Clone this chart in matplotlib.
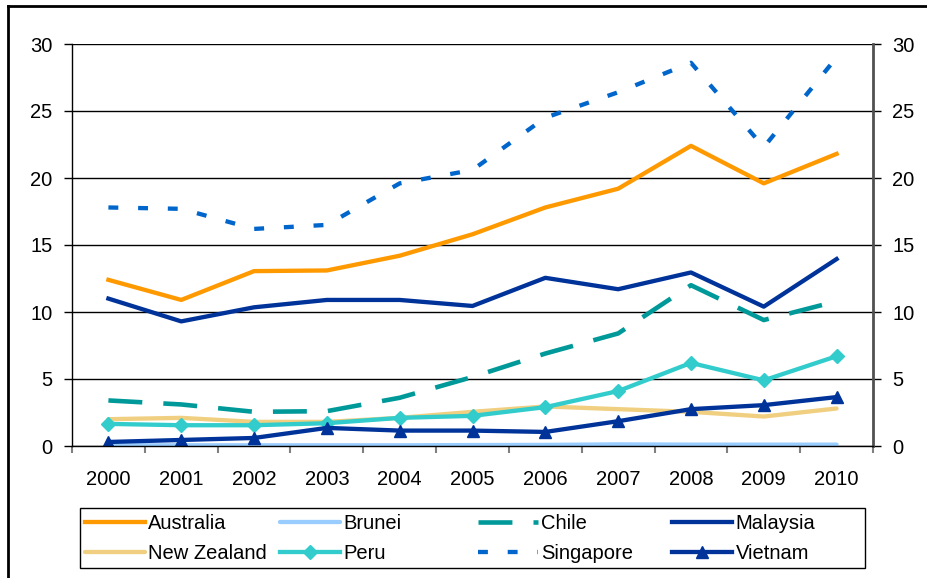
import matplotlib
matplotlib.use("Agg")
import matplotlib.pyplot as plt
from matplotlib.lines import Line2D
from matplotlib.patches import Rectangle
import numpy as np

plt.rcParams['font.family'] = ['Liberation Sans', 'DejaVu Sans']

years = ['2000', '2001', '2002', '2003', '2004', '2005', '2006', '2007', '2008', '2009', '2010']
australia = [12.4, 10.9, 13.05, 13.1, 14.2, 15.8, 17.8, 19.2, 22.4, 19.6, 21.8]
brunei = [0.05, 0.05, 0.05, 0.05, 0.05, 0.07, 0.08, 0.12, 0.1, 0.1, 0.1]
chile = [3.4, 3.1, 2.55, 2.6, 3.6, 5.15, 6.9, 8.4, 12.0, 9.4, 10.8]
malaysia = [11.0, 9.3, 10.35, 10.9, 10.9, 10.45, 12.55, 11.7, 12.95, 10.4, 13.95]
new_zealand = [2.0, 2.1, 1.8, 1.8, 2.1, 2.55, 2.95, 2.75, 2.55, 2.2, 2.8]
peru = [1.65, 1.55, 1.55, 1.7, 2.1, 2.25, 2.9, 4.1, 6.2, 4.9, 6.7]
singapore = [17.8, 17.7, 16.2, 16.5, 19.6, 20.6, 24.5, 26.4, 28.6, 22.3, 29.0]
vietnam = [0.3, 0.45, 0.6, 1.35, 1.15, 1.15, 1.05, 1.85, 2.75, 3.05, 3.65]

W, H = 927, 578
fig = plt.figure(figsize=(W/100, H/100), dpi=100)
ax = fig.add_axes([72/W, 1-446/H, (873-72)/W, (446-44)/H])
x = np.arange(len(years))

lw = 3.1
h = {}
h['Australia'], = ax.plot(x, australia, color='#FF9900', lw=lw)
h['Brunei'], = ax.plot(x, brunei, color='#99CCFF', lw=lw, solid_capstyle='round')
h['Chile'], = ax.plot(x, chile, color='#009999', lw=3.3, linestyle=(0, (7.4, 4.6)))
h['Malaysia'], = ax.plot(x, malaysia, color='#003399', lw=lw)
h['New Zealand'], = ax.plot(x, new_zealand, color='#F0CF80', lw=lw, solid_capstyle='round')
h['Peru'], = ax.plot(x, peru, color='#33CCCC', lw=lw, marker='D', markersize=7.5)
h['Singapore'], = ax.plot(x, singapore, color='#0066CC', lw=lw, linestyle=(0, (2.3, 4.6)))
h['Vietnam'], = ax.plot(x, vietnam, color='#003399', lw=lw, marker='^', markersize=8.5)

ax.set_xlim(-0.5, len(years) - 0.5)
ax.set_ylim(0, 30)
ax.set_yticks([0, 5, 10, 15, 20, 25, 30])
ax.set_xticks(x)
ax.set_xticklabels(years)
ax.set_xticks(np.arange(-0.5, len(years), 1.0), minor=True)
ax.tick_params(axis='x', which='major', length=0, pad=17, labelsize=14.5)
ax.tick_params(axis='x', which='minor', length=5, width=1.5, color='#808080')
ax.tick_params(axis='y', which='major', length=6, width=1, color='black', pad=8,
               labelsize=14.5, right=True, labelright=True)
ax.grid(axis='y', color='black', lw=1)
ax.set_axisbelow(True)
ax.spines['top'].set_visible(False)
ax.spines['left'].set_linewidth(1)
ax.spines['bottom'].set_linewidth(1)
ax.spines['right'].set_color('#505050')
ax.spines['right'].set_linewidth(2)

# legend: 4 columns, 2 rows (row-major like the original)
columns = [['Australia', 'New Zealand'], ['Brunei', 'Peru'],
           ['Chile', 'Singapore'], ['Malaysia', 'Vietnam']]
col_x = [85, 280, 478, 672]
for cx, names in zip(col_x, columns):
    fig.legend([h[k] for k in names], names, loc='upper left',
               bbox_to_anchor=(cx/W, 1-514/H), frameon=False,
               fontsize=14.5, handlelength=3.0, handletextpad=0.15,
               borderpad=0, borderaxespad=0, labelspacing=0.55)
fig.add_artist(Rectangle((80/W, 1-568/H), (865-80)/W, (568-508)/H,
                         transform=fig.transFigure, fill=False, edgecolor='black', lw=1))

# outer chart border (left and top visible)
fig.add_artist(Line2D([8/W, 8/W], [0, 1-6/H], transform=fig.transFigure, color='black', lw=2))
fig.add_artist(Line2D([8/W, 1], [1-6/H, 1-6/H], transform=fig.transFigure, color='black', lw=2))

fig.savefig('out.png', dpi=100)
